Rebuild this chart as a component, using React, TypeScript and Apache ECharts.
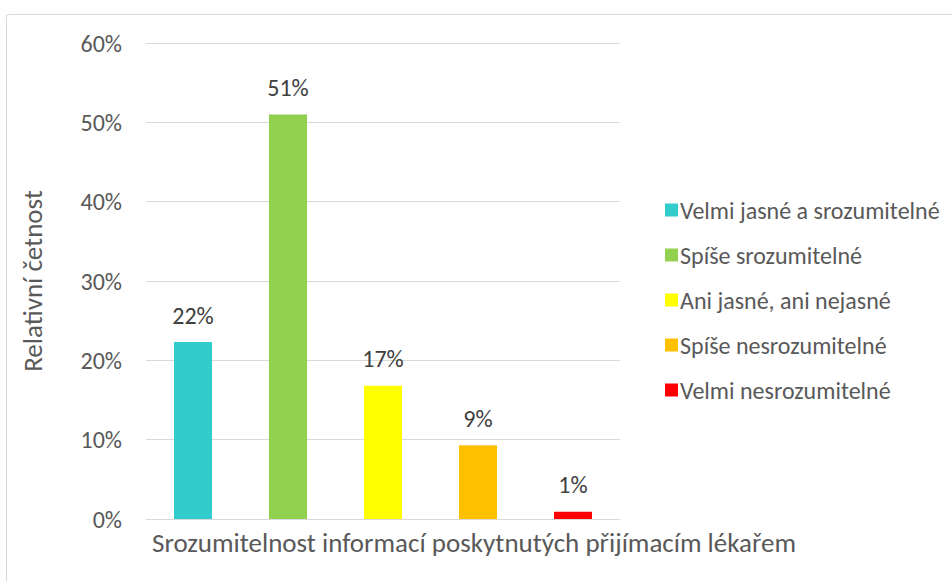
import React, { useEffect, useRef } from "react";
import * as echarts from "echarts";

const categories = ["Srozumitelnost informací poskytnutých přijímacím lékařem"];
const seriesNames = [
  "Velmi jasné a srozumitelné",
  "Spíše srozumitelné",
  "Ani jasné, ani nejasné",
  "Spíše nesrozumitelné",
  "Velmi nesrozumitelné",
];
const seriesValues = [22.3, 51.0, 16.8, 9.3, 0.9];
const seriesColors = ["#33CCCC", "#92D050", "#FFFF00", "#FFC000", "#FF0000"];
const yTicks = { min: 0, max: 60, interval: 10 };

const FONT = "Calibri, Carlito, 'Open Sans', 'Noto Sans', sans-serif";

export default function App() {
  const ref = useRef<HTMLDivElement>(null);
  useEffect(() => {
    if (!ref.current) return;
    const chart = echarts.init(ref.current, null, { renderer: "svg" });
    chart.setOption({
      animation: false,
      backgroundColor: "#ffffff",
      textStyle: { fontFamily: FONT },
      grid: { left: 146, right: 332, top: 43, bottom: 62, containLabel: false },
      legend: {
        orient: "vertical",
        left: 660,
        top: 193,
        itemWidth: 13,
        itemHeight: 13,
        itemGap: 21,
        icon: "rect",
        textStyle: { fontSize: 24, color: "#595959", fontFamily: FONT, lineHeight: 24, padding: [0, 0, 0, -3] },
        data: seriesNames,
      },
      xAxis: {
        type: "category",
        data: categories,
        axisLine: { show: true, lineStyle: { color: "#d9d9d9", width: 1 } },
        axisTick: { show: false },
        axisLabel: { show: false },
      },
      yAxis: {
        type: "value",
        min: yTicks.min,
        max: yTicks.max,
        interval: yTicks.interval,
        name: "Relativní četnost",
        nameLocation: "middle",
        nameGap: 100,
        nameTextStyle: { fontSize: 27, color: "#595959", fontFamily: FONT },
        axisLine: { show: false },
        axisTick: { show: false },
        axisLabel: {
          formatter: (v: number) => v + "%",
          fontSize: 24,
          color: "#595959",
          margin: 24,
          fontFamily: FONT,
        },
        splitLine: { lineStyle: { color: "#d9d9d9", width: 1 } },
      },
      series: seriesNames.map((name, i) => ({
        name,
        type: "bar",
        data: [seriesValues[i]],
        barWidth: 38,
        barGap: "150%",
        itemStyle: { color: seriesColors[i] },
        label: {
          show: true,
          position: "top",
          distance: 15,
          formatter: (p: any) => Math.round(p.value) + "%",
          fontSize: 24,
          color: "#404040",
          fontFamily: FONT,
        },
      })),
      graphic: [
        {
          type: "rect",
          left: 4,
          top: 12,
          shape: { width: 1000, height: 700, r: 2 },
          style: { fill: "none", stroke: "#d9d9d9", lineWidth: 1 },
          silent: true,
          z: -10,
        },
        {
          type: "text",
          left: 152,
          top: 529,
          style: {
            text: categories[0],
            fontSize: 27,
            fill: "#595959",
            fontFamily: FONT,
          },
        },
      ],
    });
    return () => chart.dispose();
  }, []);
  return (
    <div
      ref={ref}
      style={{ position: "fixed", left: 0, top: 0, width: 952, height: 581 }}
    />
  );
}
